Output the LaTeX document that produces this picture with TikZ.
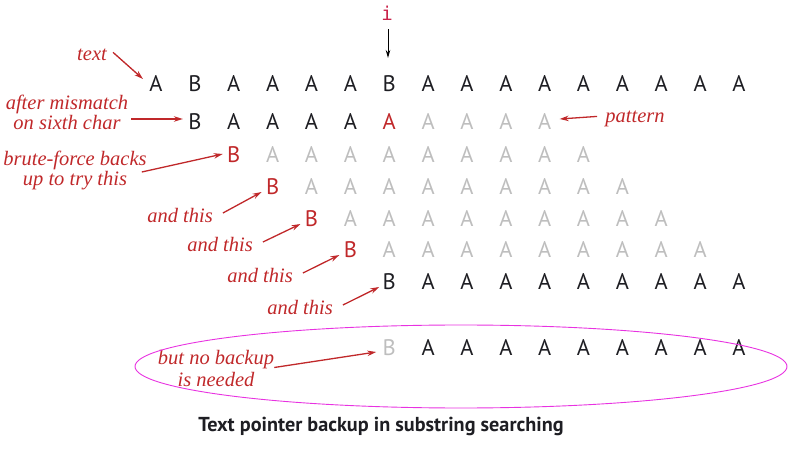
\documentclass[tikz,border=0pt]{standalone}
\usepackage{fontspec}
\setmainfont{Liberation Serif}
\newfontfamily\letterfont{PT Sans}
\newfontfamily\capfont{PT Sans}
\newfontfamily\idxfont{DejaVu Sans Mono}
\usetikzlibrary{arrows.meta,calc,shapes.geometric}
\definecolor{lblred}{RGB}{192,40,42}
\definecolor{lgrey}{RGB}{190,190,190}
\definecolor{ellmag}{RGB}{232,50,225}
\definecolor{txtblack}{RGB}{30,30,35}
\begin{document}
\begin{tikzpicture}[x=1pt,y=-1pt,
  ch/.style={font=\letterfont\fontsize{22.5}{22.5}\selectfont, inner sep=0pt, text=txtblack},
  chred/.style={ch, text=lblred},
  chgrey/.style={ch, text=lgrey},
  lbl/.style={font=\itshape\fontsize{20.5}{20}\selectfont, text=lblred, inner sep=0pt, align=center},
  redarr/.style={draw=lblred, line width=1.3pt, -{Stealth[length=9pt,width=5.5pt]}},
  blkarr/.style={draw=black, line width=1pt, -{Stealth[length=8pt,width=4.5pt]}},
]
\useasboundingbox (0,0) rectangle (788,457);
% column x positions: 156 + 38.87*k
% Row 0: text
\foreach \k/\c in {0/A,1/B,2/A,3/A,4/A,5/A,6/B,7/A,8/A,9/A,10/A,11/A,12/A,13/A,14/A,15/A}
  \node[ch] (r0c\k) at ({156+38.87*\k},84) {\c};
% Row 1: pattern after mismatch
\node[ch] (r1c1) at ({156+38.87*1},122) {B};
\foreach \k in {2,...,5} \node[ch] (r1c\k) at ({156+38.87*\k},122) {A};
\node[chred] (r1c6) at ({156+38.87*6},122) {A};
\foreach \k in {7,...,10} \node[chgrey] (r1c\k) at ({156+38.87*\k},122) {A};
% Rows 2-5: backups
\foreach \r/\yy in {2/155,3/187,4/219,5/250}{
  \node[chred] (r\r c\r) at ({156+38.87*\r},\yy) {B};
  \foreach \j in {1,...,9}
    \node[chgrey] (r\r c\the\numexpr\r+\j\relax) at ({156+38.87*(\r+\j)},\yy) {A};
}
% Row 6
\node[ch] (r6c6) at ({156+38.87*6},282) {B};
\foreach \k in {7,...,15} \node[ch] (r6c\k) at ({156+38.87*\k},282) {A};
% Row 7
\node[chgrey] (r7c6) at ({156+38.87*6},348) {B};
\foreach \k in {7,...,15} \node[ch] (r7c\k) at ({156+38.87*\k},348) {A};

% index i
\node[font=\idxfont\fontsize{19}{19}\selectfont, text=lblred!85!magenta, inner sep=0pt] (idx) at (387,13) {i};
\coordinate (idxtip) at (388,58);
\draw[blkarr] ($(idx.south)+(1,9)$) -- (idxtip);

% labels
\node[lbl, anchor=base] (ltext) at (92,61) {text};
\node[lbl, anchor=base] (lmis) at (67,130) {after mismatch\\on sixth char};
\node[lbl, anchor=base] (lpat) at (635,123) {pattern};
\node[lbl, anchor=base] (lbrute) at (75,186) {brute-force backs\\up to try this};
\node[lbl, anchor=base] (land1) at (180,223) {and this};
\node[lbl, anchor=base] (land2) at (220,252) {and this};
\node[lbl, anchor=base] (land3) at (260,283) {and this};
\node[lbl, anchor=base] (land4) at (300,315) {and this};
\node[lbl, anchor=base, font=\itshape\fontsize{20.5}{23}\selectfont] (lnob) at (216,387) {but no backup\\is needed};

% arrows
\draw[redarr] ($(ltext.east)+(6,-3)$) -- ($(r0c0)+(-13,-5)$);
\draw[redarr] ($(lmis.east |- r1c1)+(3,-3)$) -- ($(r1c1)+(-12,-3)$);
\draw[redarr] ($(lpat.west)+(-8,-3)$) -- ($(r1c10)+(15,-3)$);
\draw[redarr] ($(lbrute.east)+(-5,1)$) -- ($(r2c2)+(-11,-1)$);
\draw[redarr] ($(land1.east)+(10,-3)$) -- ($(r3c3)+(-11,5)$);
\draw[redarr] ($(land2.east)+(10,-3)$) -- ($(r4c4)+(-11,5)$);
\draw[redarr] ($(land3.east)+(10,-3)$) -- ($(r5c5)+(-11,5)$);
\draw[redarr] ($(land4.east)+(10,-3)$) -- ($(r6c6)+(-10,5)$);
\draw[redarr] ($(lnob.east)+(0,-1)$) -- ($(r7c6)+(-13,4)$);

% ellipse
\node[draw=ellmag, line width=0.9pt, ellipse, minimum width=652pt, minimum height=83pt, inner sep=0pt] (ell) at (461,366.5) {};

% caption
\node[font=\capfont\bfseries\fontsize{20.2}{20}\selectfont, text=txtblack, inner sep=0pt, anchor=base] (cap) at (381,431) {Text pointer backup in substring searching};
\end{tikzpicture}
\end{document}
